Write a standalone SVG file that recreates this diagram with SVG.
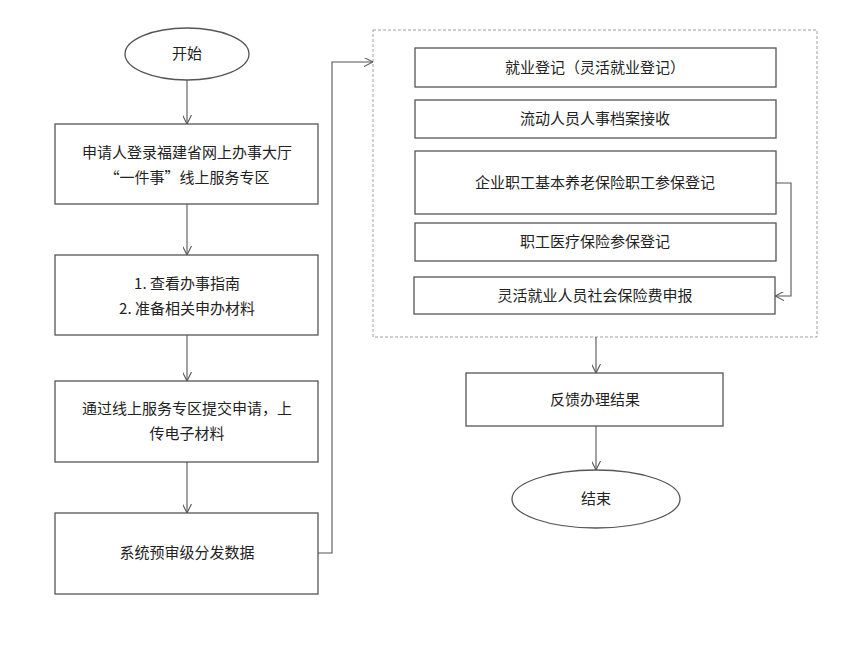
<svg xmlns="http://www.w3.org/2000/svg" width="867" height="651" viewBox="0 0 867 651">
<style>
.n{fill:#fff;stroke:#555;stroke-width:1.3}
.t{font-family:"Noto Sans CJK SC","Liberation Sans",sans-serif;font-size:15px;fill:#222;text-anchor:middle}
.c{fill:none;stroke:#555;stroke-width:1.1;marker-end:url(#a)}
</style>
<defs><marker id="a" viewBox="0 0 10 10" refX="10" refY="5" markerWidth="9" markerHeight="9" orient="auto" markerUnits="userSpaceOnUse"><path d="M0,0L10,5L0,10" fill="none" stroke="#555" stroke-width="1.2"/></marker></defs>
<rect width="867" height="651" fill="#fff"/>
<g id="container"><rect x="373" y="30" width="444" height="307" fill="none" stroke="#888" stroke-dasharray="3,2" stroke-width="0.8"/></g>
<g id="start"><ellipse class="n" cx="187" cy="54" rx="62" ry="26"/><text class="t" x="187" y="59">开始</text></g>
<g id="s1"><rect class="n" x="55" y="124" width="263" height="80"/><text class="t" x="187" y="158">申请人登录福建省网上办事大厅</text><text class="t" x="187" y="183">“一件事”线上服务专区</text></g>
<g id="s2"><rect class="n" x="55" y="255" width="263" height="80"/><text class="t" x="187" y="289">1. 查看办事指南</text><text class="t" x="187" y="314">2. 准备相关申办材料</text></g>
<g id="s3"><rect class="n" x="55" y="381" width="263" height="81"/><text class="t" x="187" y="414">通过线上服务专区提交申请，上</text><text class="t" x="187" y="439">传电子材料</text></g>
<g id="s4"><rect class="n" x="55" y="513" width="263" height="81"/><text class="t" x="187" y="558">系统预审级分发数据</text></g>
<g id="r1"><rect class="n" x="415" y="48" width="361" height="39"/><text class="t" x="595" y="73">就业登记（灵活就业登记）</text></g>
<g id="r2"><rect class="n" x="415" y="100" width="361" height="38"/><text class="t" x="595" y="124">流动人员人事档案接收</text></g>
<g id="r3"><rect class="n" x="415" y="151" width="361" height="63"/><text class="t" x="595" y="188">企业职工基本养老保险职工参保登记</text></g>
<g id="r4"><rect class="n" x="415" y="223" width="361" height="38"/><text class="t" x="595" y="247">职工医疗保险参保登记</text></g>
<g id="r5"><rect class="n" x="414" y="277" width="361" height="37"/><text class="t" x="595" y="301">灵活就业人员社会保险费申报</text></g>
<g id="fb"><rect class="n" x="466" y="373" width="257" height="53"/><text class="t" x="595" y="405">反馈办理结果</text></g>
<g id="end"><ellipse class="n" cx="596" cy="499" rx="84" ry="29"/><text class="t" x="596" y="504">结束</text></g>
<g id="connectors">
<path class="c" d="M187,80V124"/>
<path class="c" d="M187,204V255"/>
<path class="c" d="M187,335V381"/>
<path class="c" d="M187,462V513"/>
<path class="c" d="M318,553H332V62H373"/>
<path class="c" d="M776,183H791V296H775"/>
<path class="c" d="M596,337V373"/>
<path class="c" d="M596,426V470"/>
</g>
</svg>
